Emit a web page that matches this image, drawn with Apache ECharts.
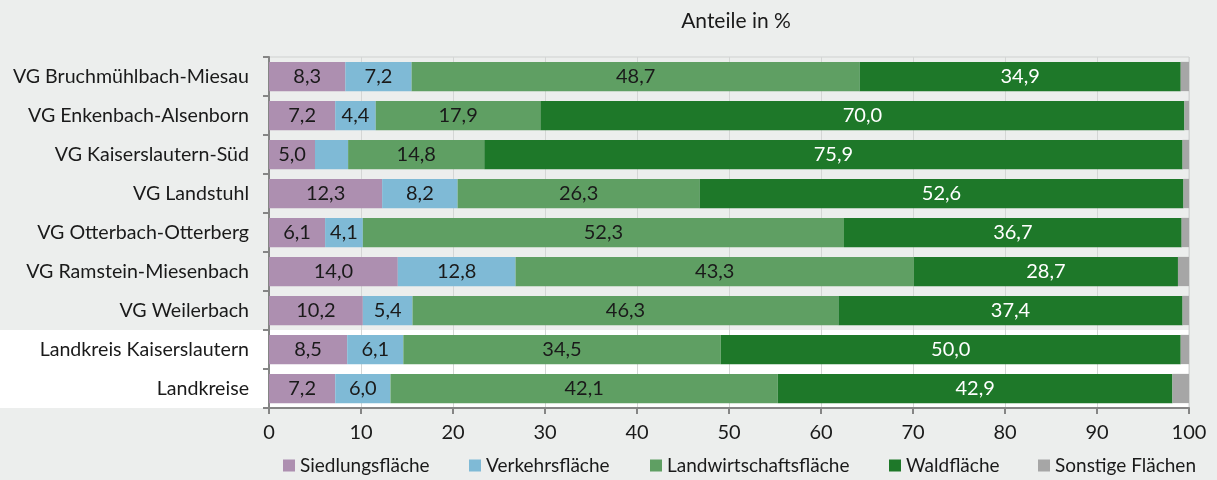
<!DOCTYPE html>
<html>
<head>
<meta charset="utf-8">
<script src="https://cdn.jsdelivr.net/npm/echarts@6/dist/echarts.min.js"></script>
<style>
  html, body { margin: 0; padding: 0; background: #eceeed; }
  #chart { width: 1217px; height: 480px; }
</style>
</head>
<body>
<div id="chart"></div>
<script>
// Flächennutzung nach Verbandsgemeinden, Anteile in %
const categories = [
  'VG Bruchmühlbach-Miesau',
  'VG Enkenbach-Alsenborn',
  'VG Kaiserslautern-Süd',
  'VG Landstuhl',
  'VG Otterbach-Otterberg',
  'VG Ramstein-Miesenbach',
  'VG Weilerbach',
  'Landkreis Kaiserslautern',
  'Landkreise'
];
const siedlung  = [8.3, 7.2, 5.0, 12.3, 6.1, 14.0, 10.2, 8.5, 7.2];
const verkehr   = [7.2, 4.4, 3.6, 8.2, 4.1, 12.8, 5.4, 6.1, 6.0];
const landwirt  = [48.7, 17.9, 14.8, 26.3, 52.3, 43.3, 46.3, 34.5, 42.1];
const wald      = [34.9, 70.0, 75.9, 52.6, 36.7, 28.7, 37.4, 50.0, 42.9];
const sonstige  = [0.9, 0.5, 0.7, 0.6, 0.8, 1.2, 0.7, 0.9, 1.8];
const xTicks    = [0, 10, 20, 30, 40, 50, 60, 70, 80, 90, 100];

const seriesNames = ['Siedlungsfläche', 'Verkehrsfläche', 'Landwirtschaftsfläche', 'Waldfläche', 'Sonstige Flächen'];
const seriesData  = [siedlung, verkehr, landwirt, wald, sonstige];
const colors      = ['#ad8fb0', '#7fbad6', '#5f9f63', '#1e7829', '#a6a6a6'];
const labelColors = ['#1a1a1a', '#1a1a1a', '#1a1a1a', '#ffffff', '#1a1a1a'];

const FONT = 'Lato, "Noto Sans", sans-serif';
const GRID = { left: 269, right: 28, top: 57, bottom: 72 };

const fmt = v => v.toFixed(1).replace('.', ',');

const chart = echarts.init(document.getElementById('chart'), null, { renderer: 'canvas' });

const series = seriesNames.map((name, i) => ({
  name,
  type: 'bar',
  stack: 'total',
  barCategoryGap: '25%',
  data: seriesData[i],
  itemStyle: { color: colors[i] },
  label: {
    show: i < 4,
    position: 'inside',
    color: labelColors[i],
    fontFamily: FONT,
    fontSize: 20,
    formatter: p => (p.value >= 4 ? fmt(p.value) : '')
  },
  emphasis: { disabled: true }
}));

// one legend per entry so each sits at its own spot
const legendLefts = [283, 469, 650, 889, 1038];
const legends = seriesNames.map((name, i) => ({
  data: [name],
  left: legendLefts[i],
  top: 456,
  padding: 0,
  itemWidth: 12,
  itemHeight: 12,
  selectedMode: false,
  icon: 'rect',
  textStyle: { fontFamily: FONT, fontSize: 19, color: '#1a1a1a' }
}));

const plotH = 480 - GRID.top - GRID.bottom;
const rowH = plotH / categories.length;

chart.setOption({
  backgroundColor: '#eceeed',
  animation: false,
  title: {
    text: 'Anteile in %',
    left: GRID.left + (1217 - GRID.left - GRID.right) / 2 + 2,
    textAlign: 'center',
    top: 6,
    textStyle: { fontFamily: FONT, fontSize: 21, fontWeight: 'normal', color: '#1a1a1a' }
  },
  graphic: {
    elements: [{
      type: 'rect',
      z: -10,
      silent: true,
      shape: { x: 0, y: GRID.top + rowH * 7, width: 1217 - GRID.right, height: rowH * 2 },
      style: { fill: '#ffffff' }
    }]
  },
  legend: legends,
  grid: {
    left: GRID.left, right: GRID.right, top: GRID.top, bottom: GRID.bottom,
    show: true, borderColor: '#cfd1d0', borderWidth: 1, backgroundColor: 'transparent'
  },
  xAxis: {
    type: 'value',
    min: xTicks[0],
    max: xTicks[xTicks.length - 1],
    interval: 10,
    axisLine: { show: true, lineStyle: { color: '#858585', width: 2 } },
    axisTick: { show: true, length: 6, lineStyle: { color: '#858585', width: 2 } },
    axisLabel: { fontFamily: FONT, fontSize: 20, color: '#1a1a1a', margin: 15 },
    splitLine: { show: true, lineStyle: { color: '#d4d6d5', width: 1 } }
  },
  yAxis: {
    type: 'category',
    data: categories,
    inverse: true,
    axisLine: { show: true, lineStyle: { color: '#858585', width: 2 } },
    axisTick: { show: true, length: 6, lineStyle: { color: '#858585', width: 2 } },
    axisLabel: { fontFamily: FONT, fontSize: 19.6, color: '#1a1a1a', margin: 20 },
    splitLine: { show: false }
  },
  series
});
</script>
</body>
</html>
